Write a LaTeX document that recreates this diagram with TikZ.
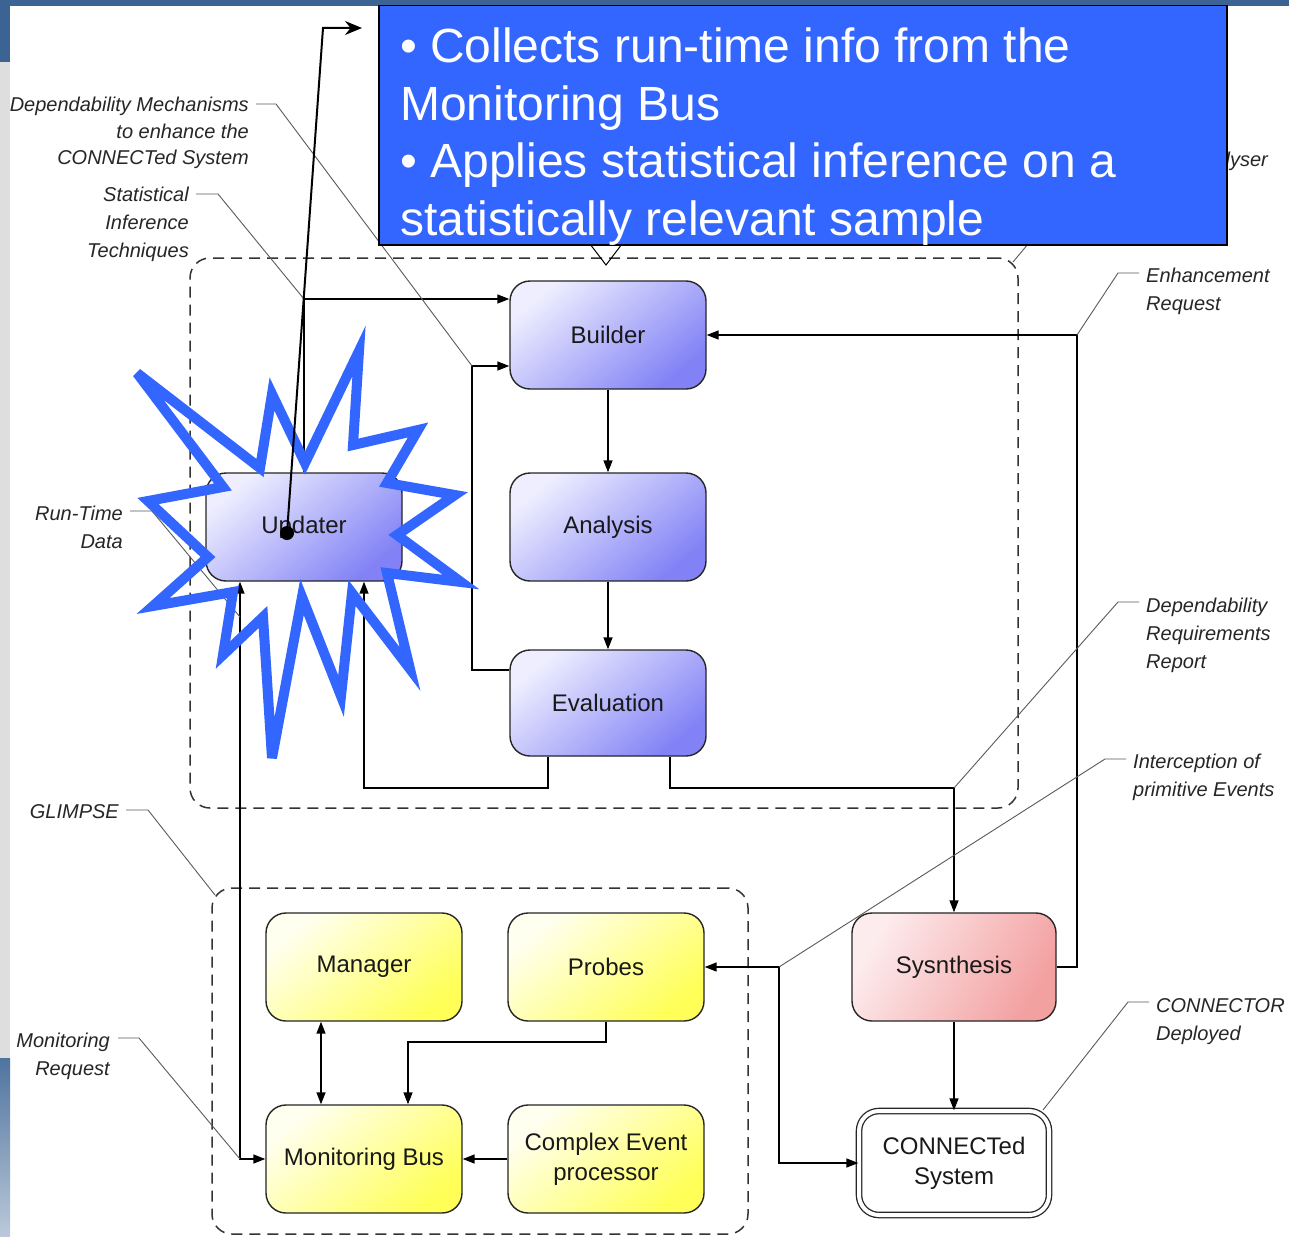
\documentclass[tikz,border=0pt]{standalone}
\usepackage{fontspec}
\setmainfont{Liberation Sans}
\usetikzlibrary{arrows.meta}
\definecolor{topbar}{HTML}{3B6494}
\definecolor{sidegray}{HTML}{DEDEDE}
\definecolor{calloutblue}{HTML}{3366FF}
\definecolor{blA}{HTML}{EEEEFF}
\definecolor{blM}{HTML}{B6B6FC}
\definecolor{blB}{HTML}{8282F6}
\definecolor{yeA}{HTML}{FFFFF0}
\definecolor{yeM}{HTML}{FFFF9A}
\definecolor{yeB}{HTML}{FFFF58}
\definecolor{reA}{HTML}{FDECEE}
\definecolor{reM}{HTML}{F8C4C6}
\definecolor{reB}{HTML}{F3A0A0}
\definecolor{leadgray}{HTML}{5A5A5A}
\begin{document}
\begin{tikzpicture}[x=1pt,y=-1pt,
  box/.style={draw=black!85, line width=1.4pt, rounded corners=20pt,
    minimum width=196pt, minimum height=108pt, inner sep=0pt,
    font=\fontsize{24}{30}\selectfont, align=center, text=black!90},
  bluebox/.style={box, top color=blA, middle color=blM, bottom color=blB, shading angle=40},
  yelbox/.style={box, top color=yeA, middle color=yeM, bottom color=yeB, shading angle=40},
  redbox/.style={box, top color=reA, middle color=reM, bottom color=reB, shading angle=60},
  sysbox/.style={box, fill=white, double=white, double distance=4pt, line width=1.3pt,
    minimum width=190pt, minimum height=104pt},
  dashbox/.style={draw=black!80, line width=1.5pt, dash pattern=on 11pt off 7pt,
    rounded corners=20pt, inner sep=0pt},
  conn/.style={line width=1.5pt, -{Triangle[length=12pt,width=9pt]}},
  dconn/.style={line width=1.5pt, {Triangle[length=12pt,width=9pt]}-{Triangle[length=12pt,width=9pt]}},
  lead/.style={draw=leadgray, line width=0.9pt},
  labR/.style={font=\itshape\fontsize{20}{26.5}\selectfont, align=right, inner sep=0pt, text=black!85},
  labS/.style={font=\itshape\fontsize{20}{28}\selectfont, align=right, inner sep=0pt, text=black!85},
  labL/.style={font=\itshape\fontsize{20}{28}\selectfont, align=left, inner sep=0pt, text=black!85},
]
\useasboundingbox (0,0) rectangle (1289,1236);
% background
\fill[white] (0,0) rectangle (1289,1236);
\fill[topbar] (0,0) rectangle (1289,6);
\fill[topbar] (0,0) rectangle (10,62);
\fill[sidegray] (0,62) rectangle (10,1058);
\shade[top color=topbar!90!white, bottom color=topbar!35!white] (0,1058) rectangle (10,1236);

% dashed containers
\node[dashbox, minimum width=828pt, minimum height=550pt] (analyserbox) at (604,533) {};
\node[dashbox, minimum width=536pt, minimum height=346pt] (glimpsebox) at (480,1061) {};

% nodes
\node[bluebox] (builder) at (608,335) {Builder};
\node[bluebox] (analysis) at (608,527) {Analysis};
\node[bluebox, minimum height=106pt] (eval) at (608,703) {Evaluation};
\node[bluebox] (updater) at (304,527) {Updater};
\node[redbox, minimum width=204pt] (synth) at (954,967) {Sysnthesis};
\node[sysbox] (csys) at (954,1163) {CONNECTed\\System};
\node[yelbox] (manager) at (364,967) {Manager};
\node[yelbox] (probes) at (606,967) {Probes};
\node[yelbox] (mbus) at (364,1159) {Monitoring Bus};
\node[yelbox] (cep) at (606,1159) {Complex Event\\processor};

% routing coordinates
\coordinate (evb) at (472,670);
\coordinate (evt) at (472,366);
\coordinate (upt) at (304,299);
\coordinate (ea) at (548,788);
\coordinate (eb) at (364,788);
\coordinate (ec) at (670,788);
\coordinate (ed) at (954,788);
\coordinate (sa) at (1077,967);
\coordinate (sb) at (1077,335);
\coordinate (pa) at (779,967);
\coordinate (pb) at (779,1163);
\coordinate (ma) at (321,1000);
\coordinate (qa) at (606,1042);
\coordinate (qb) at (408,1042);
\coordinate (ua) at (240,1159);

% connectors
\draw[conn] (builder) -- (analysis);
\draw[conn] (analysis) -- (eval);
\draw[conn] (eval.west |- evb) -- (evb) -- (evt) -- (builder.west |- evt);
\draw[conn] (updater.north) -- (upt) -- (builder.west |- upt);
\draw[conn] (eval.south -| ea) -- (ea) -- (eb) -- (updater.south -| eb);
\draw[conn] (eval.south -| ec) -- (ec) -- (ed) -- (synth.north);
\draw[conn] (synth.east) -- (sa) -- (sb) -- (builder.east);
\draw[conn] (synth.south) -- (csys.north);
\draw[dconn] (probes.east) -- (pa) -- (pb) -- (csys.west);
\draw[dconn] (manager.south -| ma) -- (mbus.north -| ma);
\draw[conn] (probes.south) -- (qa) -- (qb) -- (mbus.north -| qb);
\draw[conn] (cep.west) -- (mbus.east);
\draw[dconn] (updater.south -| ua) -- (ua) -- (mbus.west);

% labels with leaders
\node[labR, anchor=north east] (l1) at (249,97) {Dependability Mechanisms\\to enhance the\\CONNECTed System};
\draw[lead] (256,104) -- (276,104) -- (evt);
\node[labS, anchor=north east] (l2) at (189,187) {Statistical\\Inference\\Techniques};
\draw[lead] (196,194) -- (218,194) -- (upt);
\node[labS, anchor=north east] (l3) at (123,506) {Run-Time\\Data};
\draw[lead] (130,511) -- (152,511) -- (240,617);
\node[labS, anchor=north east] (l4) at (119,804) {GLIMPSE};
\draw[lead] (126,810) -- (148,810) -- (215,895);
\node[labS, anchor=north east] (l5) at (110,1033) {Monitoring\\Request};
\draw[lead] (118,1038) -- (139,1038) -- (ua);
\node[labL, anchor=north west] (r1) at (1146,268) {Enhancement\\Request};
\draw[lead] (1139,273) -- (1118,273) -- (sb);
\node[labL, anchor=north west] (r2) at (1146,598) {Dependability\\Requirements\\Report};
\draw[lead] (1139,602) -- (1118,602) -- (ed);
\node[labL, anchor=north west] (r3) at (1133,754) {Interception of\\primitive Events};
\draw[lead] (1126,759) -- (1105,759) -- (pa);
\node[labL, anchor=north west] (r4) at (1156,998) {CONNECTOR\\Deployed};
\draw[lead] (1149,1002) -- (1128,1002) -- (1043,1110);
\node[labL, anchor=north east] (r0) at (1268,152) {Analyser};
\draw[lead] (1013,262) -- (1100,158) -- (1170,158);

% starburst
\draw[calloutblue, line width=10pt, line join=miter, miter limit=6]
  (359,351) -- (353,445) -- (418,430) -- (387,483) -- (455,495) -- (397,535)
  -- (461,582) -- (387,573) -- (410,669) -- (352,593) -- (341,696) -- (302,597)
  -- (272,758) -- (263,617) -- (223,655) -- (233,592) -- (153,606) -- (208,557)
  -- (148,501) -- (223,487) -- (137,373) -- (260,468) -- (272,394) -- (305,463)
  -- cycle;

% pointer arrow from dot
\node[circle, fill=black, minimum size=14pt, inner sep=0pt] (dot) at (287,533) {};
\coordinate (bend) at (323,28);
\coordinate (tipend) at (362,28);
\draw[line width=2pt, -{Stealth[length=17pt,width=14pt]}] (dot.center) -- (bend) -- (tipend);

% callout box
\node[draw=black, line width=1.5pt, fill=calloutblue, minimum width=848pt, minimum height=239pt,
  anchor=north west, inner sep=0pt] (info) at (378,5) {};
\node[anchor=north west, inner sep=0pt, text=white, align=left,
  font=\fontsize{48}{57.5}\selectfont] (infotext) at (400,28)
  {• Collects run-time info from the\\Monitoring Bus\\• Applies statistical inference on a\\statistically relevant sample};
\draw[line width=1pt] (590,244) -- (606,265) -- (622,244);
\end{tikzpicture}
\end{document}
